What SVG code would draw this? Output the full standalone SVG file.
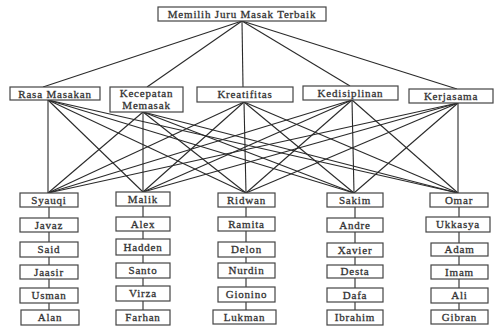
<svg xmlns="http://www.w3.org/2000/svg" width="494" height="328" viewBox="0 0 494 328">
<style>
rect{fill:#fff;stroke:#444;stroke-width:1.2}
text{font-family:"Liberation Serif","Times New Roman",serif;font-size:11px;letter-spacing:0.8px;fill:#333;stroke:#333;stroke-width:0.3;text-anchor:middle}
.c line{stroke:#2a2a2a;stroke-width:1.1}
</style>
<rect x="0" y="0" width="494" height="328" style="fill:#fff;stroke:none"/>
<g class="c" id="connectors">
<line x1="242" y1="21" x2="43" y2="87"/>
<line x1="242" y1="21" x2="147" y2="87"/>
<line x1="242" y1="21" x2="243" y2="87"/>
<line x1="242" y1="21" x2="350" y2="86"/>
<line x1="242" y1="21" x2="457" y2="89"/>
<line x1="48" y1="100" x2="48" y2="193"/><line x1="48" y1="100" x2="143" y2="192"/><line x1="48" y1="100" x2="246" y2="193"/><line x1="48" y1="100" x2="354" y2="193"/><line x1="48" y1="100" x2="458" y2="193"/>
<line x1="143" y1="112" x2="48" y2="193"/><line x1="143" y1="112" x2="143" y2="192"/><line x1="143" y1="112" x2="246" y2="193"/><line x1="143" y1="112" x2="354" y2="193"/><line x1="143" y1="112" x2="458" y2="193"/>
<line x1="244" y1="102" x2="48" y2="193"/><line x1="244" y1="102" x2="143" y2="192"/><line x1="244" y1="102" x2="246" y2="193"/><line x1="244" y1="102" x2="354" y2="193"/><line x1="244" y1="102" x2="458" y2="193"/>
<line x1="352" y1="100" x2="48" y2="193"/><line x1="352" y1="100" x2="143" y2="192"/><line x1="352" y1="100" x2="246" y2="193"/><line x1="352" y1="100" x2="354" y2="193"/><line x1="352" y1="100" x2="458" y2="193"/>
<line x1="458" y1="103" x2="48" y2="193"/><line x1="458" y1="103" x2="143" y2="192"/><line x1="458" y1="103" x2="246" y2="193"/><line x1="458" y1="103" x2="354" y2="193"/><line x1="458" y1="103" x2="458" y2="193"/>
<line x1="49" y1="207" x2="49" y2="310"/>
<line x1="143" y1="206" x2="143" y2="310"/>
<line x1="246" y1="207" x2="246" y2="310"/>
<line x1="355" y1="207" x2="355" y2="310"/>
<line x1="459" y1="207" x2="459" y2="310"/>
</g>
<g id="goal"><rect x="158" y="7" width="168" height="14"/><text x="242" y="18">Memilih Juru Masak Terbaik</text></g>
<g id="c1"><rect x="10" y="87" width="90" height="13"/><text x="55" y="97.5">Rasa Masakan</text></g>
<g id="c2"><rect x="110" y="87" width="73" height="25"/><text x="146.5" y="97">Kecepatan</text><text x="146.5" y="108.5">Memasak</text></g>
<g id="c3"><rect x="197" y="87" width="96" height="15"/><text x="245" y="98">Kreatifitas</text></g>
<g id="c4"><rect x="303" y="86" width="95" height="14"/><text x="350.5" y="96.5">Kedisiplinan</text></g>
<g id="c5"><rect x="409" y="89" width="84" height="14"/><text x="451" y="99.5">Kerjasama</text></g>

<g id="a1"><rect x="20" y="193" width="58" height="14"/><text x="49" y="203.5">Syauqi</text></g>
<g id="a1b"><rect x="20" y="218" width="58" height="14"/><text x="49" y="228.5">Javaz</text></g>
<g id="a1c"><rect x="20" y="242" width="58" height="15"/><text x="49" y="253">Said</text></g>
<g id="a1d"><rect x="20" y="265" width="58" height="14"/><text x="49" y="275.5">Jaasir</text></g>
<g id="a1e"><rect x="20" y="288" width="58" height="15"/><text x="49" y="299">Usman</text></g>
<g id="a1f"><rect x="21" y="310" width="58" height="15"/><text x="50" y="321">Alan</text></g>

<g id="a2"><rect x="116" y="192" width="54" height="14"/><text x="143" y="202.5">Malik</text></g>
<g id="a2b"><rect x="116" y="217" width="54" height="14"/><text x="143" y="227.5">Alex</text></g>
<g id="a2c"><rect x="116" y="239" width="54" height="16"/><text x="143" y="250.5">Hadden</text></g>
<g id="a2d"><rect x="116" y="263" width="54" height="15"/><text x="143" y="274">Santo</text></g>
<g id="a2e"><rect x="116" y="286" width="54" height="15"/><text x="143" y="297">Virza</text></g>
<g id="a2f"><rect x="116" y="310" width="54" height="15"/><text x="143" y="321">Farhan</text></g>

<g id="a3"><rect x="218" y="193" width="57" height="14"/><text x="246.5" y="203.5">Ridwan</text></g>
<g id="a3b"><rect x="218" y="217" width="57" height="14"/><text x="246.5" y="227.5">Ramita</text></g>
<g id="a3c"><rect x="218" y="242" width="57" height="15"/><text x="246.5" y="253">Delon</text></g>
<g id="a3d"><rect x="218" y="263" width="57" height="15"/><text x="246.5" y="274">Nurdin</text></g>
<g id="a3e"><rect x="218" y="287" width="57" height="15"/><text x="246.5" y="298">Gionino</text></g>
<g id="a3f"><rect x="213" y="310" width="63" height="14"/><text x="244.5" y="320.5">Lukman</text></g>

<g id="a4"><rect x="327" y="193" width="56" height="14"/><text x="355" y="203.5">Sakim</text></g>
<g id="a4b"><rect x="327" y="218" width="56" height="14"/><text x="355" y="228.5">Andre</text></g>
<g id="a4c"><rect x="327" y="243" width="56" height="14"/><text x="355" y="253.5">Xavier</text></g>
<g id="a4d"><rect x="327" y="265" width="56" height="13"/><text x="355" y="275">Desta</text></g>
<g id="a4e"><rect x="327" y="288" width="56" height="14"/><text x="355" y="298.5">Dafa</text></g>
<g id="a4f"><rect x="327" y="310" width="56" height="15"/><text x="355" y="321">Ibrahim</text></g>

<g id="a5"><rect x="430" y="193" width="58" height="14"/><text x="459" y="203.5">Omar</text></g>
<g id="a5b"><rect x="426" y="217" width="64" height="15"/><text x="458" y="228">Ukkasya</text></g>
<g id="a5c"><rect x="431" y="243" width="57" height="13"/><text x="459.5" y="253">Adam</text></g>
<g id="a5d"><rect x="431" y="265" width="57" height="14"/><text x="459.5" y="275.5">Imam</text></g>
<g id="a5e"><rect x="431" y="288" width="57" height="15"/><text x="459.5" y="299">Ali</text></g>
<g id="a5f"><rect x="431" y="310" width="57" height="14"/><text x="459.5" y="320.5">Gibran</text></g>
</svg>
